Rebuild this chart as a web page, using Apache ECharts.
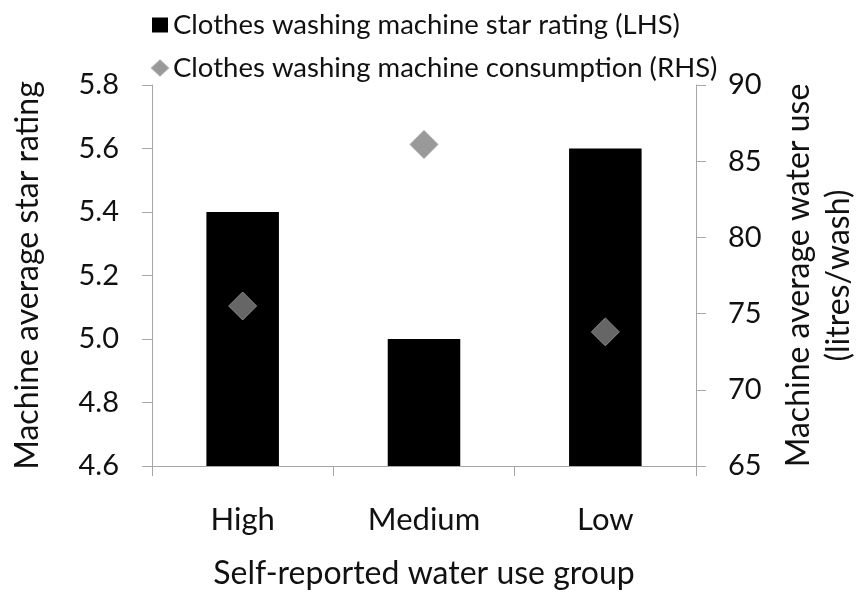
<!DOCTYPE html>
<html>
<head>
<meta charset="utf-8">
<script src="https://cdn.jsdelivr.net/npm/echarts@6/dist/echarts.min.js"></script>
<style>
  html, body { margin: 0; padding: 0; background: #ffffff; }
  #chart { width: 861px; height: 597px; }
</style>
</head>
<body>
<div id="chart"></div>
<script>
// Water use groups and the two machine measures per group
const groups = ['High', 'Medium', 'Low'];
const starRating = [5.4, 5.0, 5.6];          // left axis
const consumption = [75.5, 86.1, 73.8];      // right axis, litres/wash
const seriesNames = [
  'Clothes washing machine star rating (LHS)',
  'Clothes washing machine consumption (RHS)'
];

const FONT = 'Lato, "Open Sans", sans-serif';
const AXIS_GREY = '#a6a6a6';
const TEXT = '#111111';

const chart = echarts.init(document.getElementById('chart'), null, { renderer: 'canvas' });

chart.setOption({
  animation: false,
  backgroundColor: '#ffffff',
  textStyle: { fontFamily: FONT, color: TEXT },
  legend: {
    orient: 'vertical',
    left: 146,
    top: 6,
    itemWidth: 16,
    itemHeight: 15,
    itemGap: 15,
    textStyle: { fontFamily: FONT, fontSize: 27.5, color: TEXT },
    data: [
      { name: seriesNames[0], icon: 'rect' },
      { name: seriesNames[1], icon: 'diamond' }
    ]
  },
  // fixed plot rectangle; axis names sit outside it freely
  grid: {
    left: 152, right: 165, top: 85, bottom: 131,
    containLabel: false,
    outerBoundsMode: 'none'
  },
  xAxis: {
    type: 'category',
    data: groups,
    name: 'Self-reported water use group',
    nameLocation: 'middle',
    nameGap: 92,
    nameTextStyle: { fontFamily: FONT, fontSize: 32, color: TEXT },
    axisLine: { show: true, lineStyle: { color: AXIS_GREY, width: 1 } },
    axisTick: { show: true, length: 10, lineStyle: { color: AXIS_GREY } },
    axisLabel: { fontFamily: FONT, fontSize: 31, color: TEXT, margin: 38 },
    splitLine: { show: false }
  },
  yAxis: [
    {
      type: 'value',
      position: 'left',
      min: 4.6,
      max: 5.8,
      interval: 0.2,
      name: 'Machine average star rating',
      nameLocation: 'middle',
      nameRotate: 90,
      nameGap: 108,
      nameTextStyle: { fontFamily: FONT, fontSize: 32, color: TEXT },
      axisLine: { show: true, lineStyle: { color: AXIS_GREY, width: 1 } },
      axisTick: { show: true, length: 10, lineStyle: { color: AXIS_GREY } },
      axisLabel: {
        fontFamily: FONT, fontSize: 29, color: TEXT, margin: 33,
        formatter: v => v.toFixed(1)
      },
      splitLine: { show: false }
    },
    {
      type: 'value',
      position: 'right',
      min: 65,
      max: 90,
      interval: 5,
      name: 'Machine average water use\n(litres/wash)',
      nameLocation: 'middle',
      nameRotate: 90,
      nameGap: 83,
      nameTextStyle: { fontFamily: FONT, fontSize: 32, color: TEXT, lineHeight: 40, align: 'center' },
      axisLine: { show: true, lineStyle: { color: AXIS_GREY, width: 1 } },
      axisTick: { show: true, length: 10, lineStyle: { color: AXIS_GREY } },
      axisLabel: { fontFamily: FONT, fontSize: 29, color: TEXT, margin: 32 },
      splitLine: { show: false }
    }
  ],
  series: [
    {
      name: seriesNames[0],
      type: 'bar',
      yAxisIndex: 0,
      data: starRating,
      barWidth: '40%',
      itemStyle: { color: '#000000' }
    },
    {
      name: seriesNames[1],
      type: 'scatter',
      yAxisIndex: 1,
      data: consumption,
      symbol: 'diamond',
      symbolSize: [28, 28],
      itemStyle: { color: '#808080', borderColor: '#9a9a9a', borderWidth: 1 },
      z: 3
    }
  ]
});
</script>
</body>
</html>
